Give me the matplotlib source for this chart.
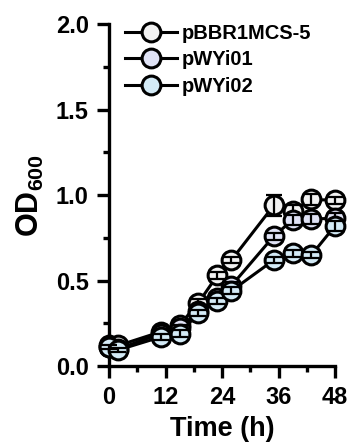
import numpy as np
import matplotlib
matplotlib.use("Agg")
import matplotlib.pyplot as plt

# Growth curve data
time_h = [0, 2, 11, 15, 19, 23, 26, 35, 39, 43, 48]

od_pbbr = [0.12, 0.12, 0.20, 0.24, 0.37, 0.53, 0.62, 0.94, 0.91, 0.975, 0.97]
sd_pbbr = [0.01, 0.01, 0.02, 0.02, 0.02, 0.02, 0.02, 0.06, 0.03, 0.03, 0.02]

od_wyi01 = [0.11, 0.10, 0.19, 0.22, 0.32, 0.40, 0.47, 0.76, 0.855, 0.86, 0.865]
sd_wyi01 = [0.01, 0.01, 0.02, 0.02, 0.02, 0.02, 0.02, 0.02, 0.03, 0.03, 0.03]

od_wyi02 = [0.11, 0.094, 0.17, 0.19, 0.31, 0.38, 0.44, 0.62, 0.66, 0.65, 0.82]
sd_wyi02 = [0.01, 0.01, 0.02, 0.02, 0.02, 0.02, 0.02, 0.02, 0.02, 0.02, 0.03]

labels = ["pBBR1MCS-5", "pWYi01", "pWYi02"]
colors = ["#f2f2f2", "#dfe2f5", "#d3eaf6"]

plt.rcParams["font.family"] = ["Liberation Sans", "DejaVu Sans"]
plt.rcParams["font.weight"] = "bold"
plt.rcParams["xtick.labelsize"] = 17
plt.rcParams["ytick.labelsize"] = 17
plt.rcParams["mathtext.fontset"] = "custom"
plt.rcParams["mathtext.bf"] = "Liberation Sans:bold"
plt.rcParams["mathtext.rm"] = "Liberation Sans:bold"

fig = plt.figure(figsize=(3.52, 4.48), dpi=100)
ax = fig.add_axes([109 / 352, 82 / 448, 226 / 352, 341.7 / 448])

series = [(od_pbbr, sd_pbbr), (od_wyi01, sd_wyi01), (od_wyi02, sd_wyi02)]
handles = []
for i, ((y, sd), label, color) in enumerate(zip(series, labels, colors)):
    z = 3 + i
    line, = ax.plot(time_h, y, "-o", color="black", lw=2.2, ms=13.5,
                    mfc=color, mec="black", mew=2.2, label=label,
                    clip_on=False, zorder=z)
    ax.errorbar(time_h, y, yerr=sd, fmt="none", ecolor="black",
                elinewidth=1.6, capsize=5.5, capthick=1.6,
                clip_on=False, zorder=z + 0.5)
    handles.append(line)

ax.set_xlim(0, 48)
ax.set_ylim(0, 2.0)
ax.set_xticks([0, 12, 24, 36, 48])
ax.set_xticks([6, 18, 30, 42], minor=True)
ax.set_yticks([0, 0.5, 1.0, 1.5, 2.0])
ax.set_yticklabels(["0.0", "0.5", "1.0", "1.5", "2.0"])
ax.set_yticks([0.25, 0.75, 1.25, 1.75], minor=True)

for side in ["top", "right"]:
    ax.spines[side].set_visible(False)
for side in ["left", "bottom"]:
    ax.spines[side].set_linewidth(2.4)

ax.tick_params(which="major", length=8.6, width=2.4)
ax.tick_params(which="minor", length=4.5, width=2.4)
ax.tick_params(axis="x", which="major", pad=5.5)
ax.tick_params(axis="y", which="major", pad=6)

ax.set_xlabel("Time (h)", fontsize=19.5, fontweight="bold", labelpad=5)
ax.set_ylabel(r"$\mathbf{OD_{600}}$", fontsize=22, labelpad=7)

fig.legend(handles=handles, labels=labels, loc="upper left",
           bbox_to_anchor=(125 / 352, 1 - 24 / 448), frameon=False,
           handlelength=2.6, handletextpad=0.2,
           labelspacing=0.37, borderpad=0, borderaxespad=0,
           prop={"weight": "bold", "size": 14.5})

fig.savefig("out.png", dpi=100)
